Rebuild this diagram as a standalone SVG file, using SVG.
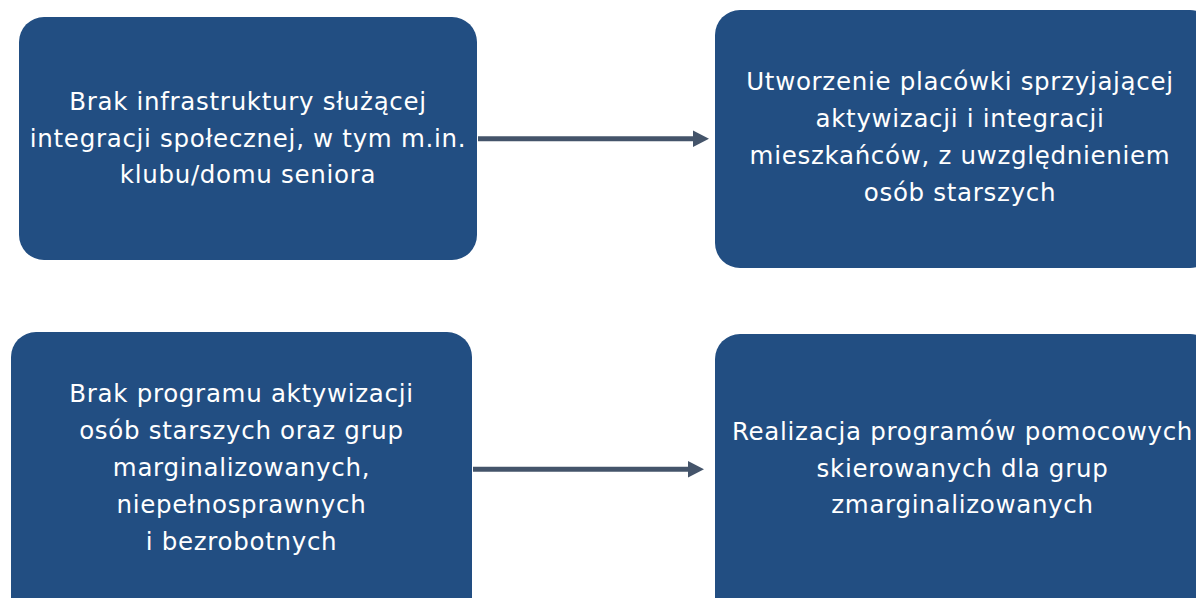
<svg xmlns="http://www.w3.org/2000/svg" width="1196" height="598" viewBox="0 0 1196 598">
<defs>
<style>
.box{fill:#224E82;}
.t{font-family:"DejaVu Sans",sans-serif;font-size:24.5px;letter-spacing:0.7px;fill:#ffffff;text-anchor:middle;}
.c{stroke:#44546A;stroke-width:5;fill:none;}
.h{fill:#44546A;}
</style>
</defs>
<rect width="1196" height="598" fill="#ffffff"/>
<g id="n1">
<rect class="box" x="19" y="17" width="458" height="243" rx="25"/>
<text class="t" x="248" y="110">Brak infrastruktury służącej</text>
<text class="t" x="248" y="146.5">integracji społecznej, w tym m.in.</text>
<text class="t" x="248" y="183">klubu/domu seniora</text>
</g>
<g id="n2">
<rect class="box" x="715" y="10" width="500" height="258" rx="25"/>
<text class="t" x="960" y="90">Utworzenie placówki sprzyjającej</text>
<text class="t" x="960" y="127">aktywizacji i integracji</text>
<text class="t" x="960" y="164">mieszkańców, z uwzględnieniem</text>
<text class="t" x="960" y="201">osób starszych</text>
</g>
<g id="n3">
<rect class="box" x="11" y="332" width="461" height="300" rx="25"/>
<text class="t" x="241.5" y="402">Brak programu aktywizacji</text>
<text class="t" x="241.5" y="439">osób starszych oraz grup</text>
<text class="t" x="241.5" y="476">marginalizowanych,</text>
<text class="t" x="241.5" y="513">niepełnosprawnych</text>
<text class="t" x="241.5" y="550">i bezrobotnych</text>
</g>
<g id="n4">
<rect class="box" x="715" y="334" width="500" height="300" rx="25"/>
<text class="t" x="962.5" y="440">Realizacja programów pomocowych</text>
<text class="t" x="962.5" y="477">skierowanych dla grup</text>
<text class="t" x="962.5" y="513">zmarginalizowanych</text>
</g>
<g id="connectors">
<line class="c" x1="478" y1="138.7" x2="694" y2="138.7"/>
<polygon class="h" points="693,130.5 709,138.7 693,147"/>
<line class="c" x1="473" y1="469.3" x2="689" y2="469.3"/>
<polygon class="h" points="688,461 704,469.3 688,477.6"/>
</g>
</svg>
